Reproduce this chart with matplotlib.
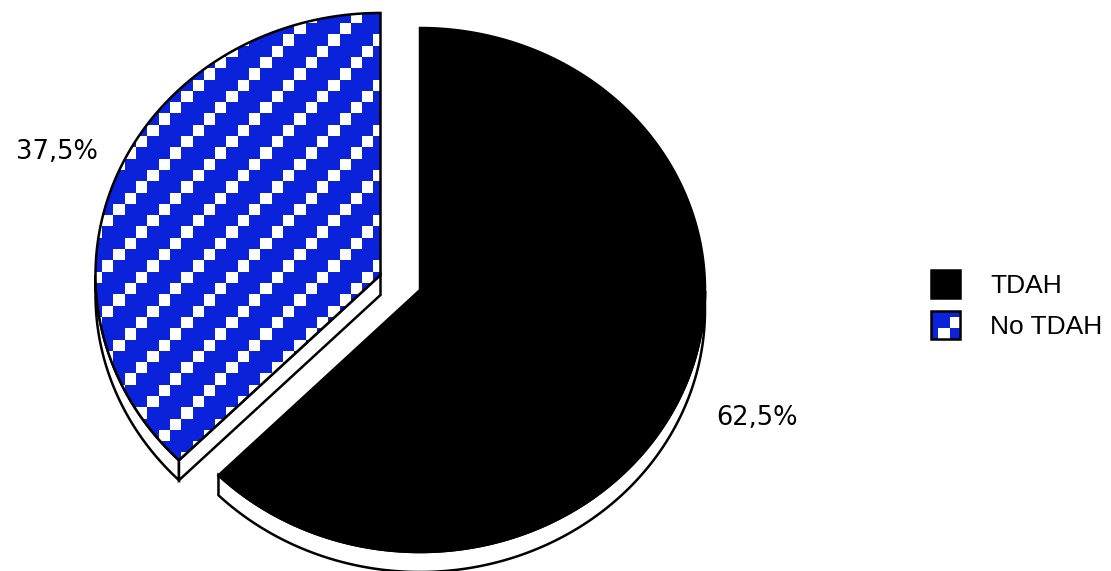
import numpy as np
import matplotlib.pyplot as plt
from matplotlib.patches import Polygon, Rectangle

# pie data
labels = ['TDAH', 'No TDAH']
shares = [62.5, 37.5]
explode = [0.0, 0.15]
label_dist = [1.28, 1.23]

W, H = 1111, 571
cx, cy = 420, 290      # centre of the top face
rx, ry = 285, 262      # tilted ellipse radii
depth = 20             # thickness of the 3d pie
blue = np.array([10, 35, 218]) / 255.0


def rim(theta, ox, oy, dz=0.0):
    t = np.radians(theta)
    return np.column_stack([ox + rx * np.cos(t), oy - ry * np.sin(t) + dz])


# blue checker texture (diagonal rows of white squares)
yy, xx = np.mgrid[0:H, 0:W]
sq = 11.3
white = ((np.floor(xx / sq) + np.floor(yy / sq)) % 4 == 0)
texture = np.where(white[..., None], 1.0, blue[None, None, :])

fig = plt.figure(figsize=(W / 100, H / 100), dpi=100)
ax = fig.add_axes([0, 0, 1, 1])
ax.set_xlim(0, W)
ax.set_ylim(H, 0)
ax.axis('off')

fills = ['black', 'pattern']
lw = 1.8
start = 90.0
for i, v in enumerate(shares):
    a0 = start
    a1 = start - 360.0 * v / 100.0
    mid = np.radians((a0 + a1) / 2)
    ox = cx + explode[i] * rx * np.cos(mid)
    oy = cy - explode[i] * ry * np.sin(mid)

    arc = np.linspace(a1, a0, 400)

    # outer side wall, only where it faces the viewer
    low = arc[np.sin(np.radians(arc)) <= 0]
    if len(low) > 1:
        top = rim(low, ox, oy)
        bot = rim(low[::-1], ox, oy, depth)
        ax.add_patch(Polygon(np.vstack([top, bot]), closed=True, facecolor='white',
                             edgecolor='black', lw=lw, zorder=2 + 2 * i))

    # radial cut faces
    for edge, normal in ((a0, a0 + 90), (a1, a1 - 90)):
        if np.sin(np.radians(normal)) < -1e-6:
            p = rim([edge], ox, oy)[0]
            face = [(ox, oy), tuple(p), (p[0], p[1] + depth), (ox, oy + depth)]
            ax.add_patch(Polygon(face, closed=True, facecolor='white',
                                 edgecolor='black', lw=lw, zorder=2 + 2 * i))

    # top face
    pts = np.vstack([[[ox, oy]], rim(arc, ox, oy)])
    if fills[i] == 'black':
        ax.add_patch(Polygon(pts, closed=True, facecolor='black',
                             edgecolor='black', lw=lw, zorder=3 + 2 * i))
    else:
        outline = Polygon(pts, closed=True, facecolor='none',
                          edgecolor='black', lw=lw, zorder=3.5 + 2 * i)
        ax.add_patch(outline)
        im = ax.imshow(texture, extent=(0, W, H, 0), interpolation='nearest',
                       aspect='auto', zorder=3 + 2 * i)
        im.set_clip_path(outline)

    # percentage label
    lx = ox + label_dist[i] * rx * np.cos(mid)
    ly = oy - label_dist[i] * ry * np.sin(mid)
    txt = f'{v:.1f}%'.replace('.', ',')
    ax.text(lx, ly, txt, ha='center', va='center', fontsize=18.5,
            family='DejaVu Sans', color='black', zorder=10)

    start = a1

# legend
for i, name in enumerate(labels):
    y0 = 270 + i * 41
    box = Rectangle((931, y0), 29, 28, facecolor='black' if fills[i] == 'black' else 'none',
                    edgecolor='black', lw=lw, zorder=8)
    ax.add_patch(box)
    if fills[i] != 'black':
        im = ax.imshow(texture, extent=(0, W, H, 0), interpolation='nearest',
                       aspect='auto', zorder=7)
        im.set_clip_path(box)
    ax.text(990, y0 + 16, name, ha='left', va='center', fontsize=19,
            family='Liberation Sans', color='black', zorder=10)

ax.set_xlim(0, W)
ax.set_ylim(H, 0)
fig.savefig('out.png', dpi=100, facecolor='white')
